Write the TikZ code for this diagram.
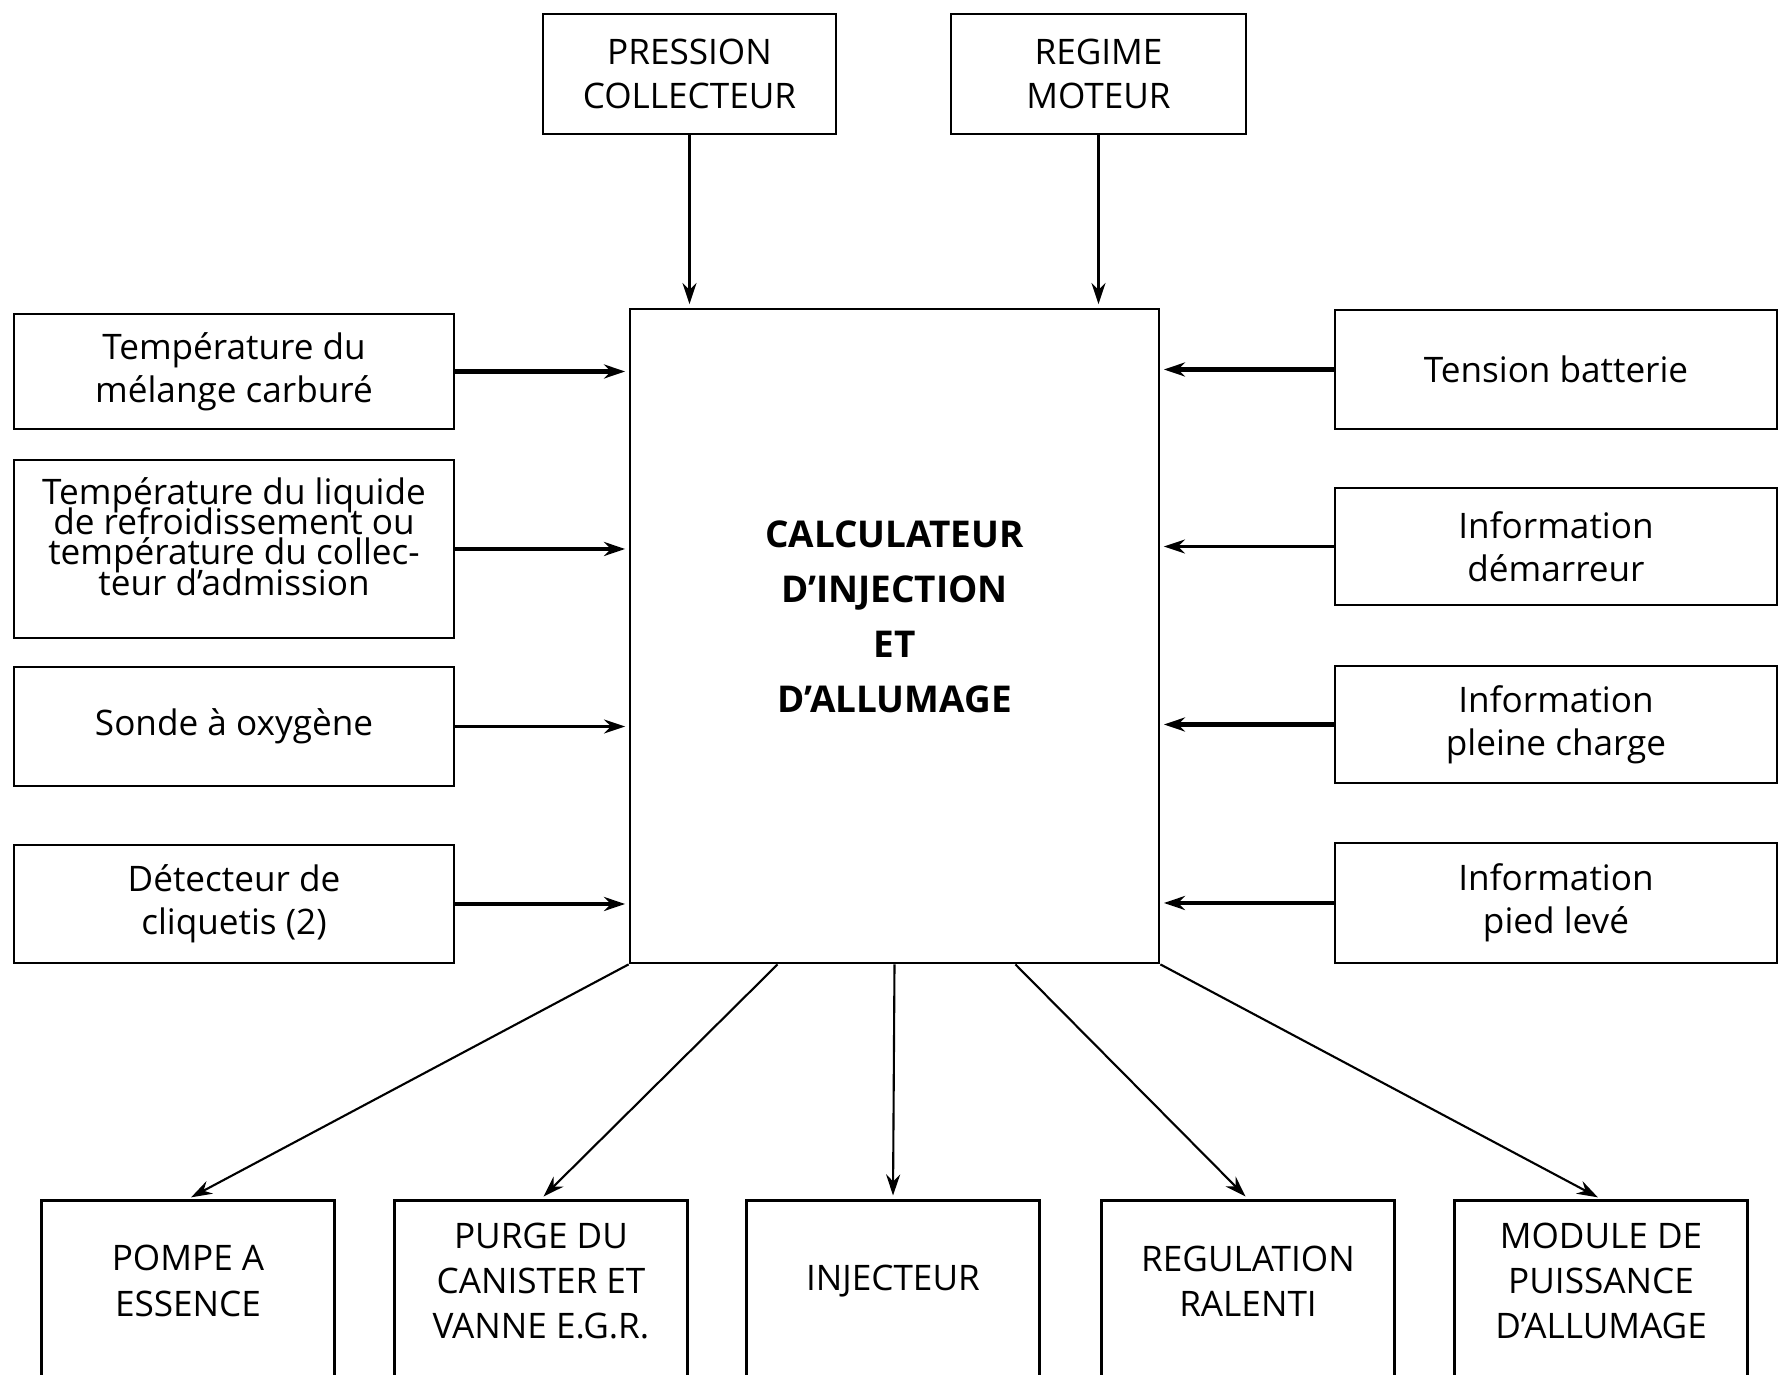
\documentclass[tikz,border=0pt]{standalone}
\usepackage{fontspec}
\setmainfont{Open Sans}
\usetikzlibrary{arrows.meta}
\tikzset{
	->, % every connector is an arrow
	>={Stealth[length=6pt,width=4pt,inset=2pt]}, % small pointed heads
	shorten >=1pt,
	box/.style={draw, line width=0.8pt, align=center, inner sep=2pt,
		font=\fontsize{10}{12.3}\selectfont},
	inbox/.style={box, minimum width=4.4cm},
	outbox/.style={box, minimum width=2.93cm, minimum height=2.2cm, anchor=north},
	boxtext/.style={anchor=center, yshift=-0.82cm, align=center,
		font=\fontsize{10}{12.9}\selectfont},
	wire/.style={line width=0.6pt},
	heavy/.style={line width=1.2pt},
}

\begin{document}
\begin{tikzpicture}
	\clip (0,0) rectangle (17.8,-13.75);

	% sensors on top
	\node[box, minimum width=2.93cm, minimum height=1.2cm] (pres) at (6.895,-0.74) {PRESSION\\COLLECTEUR};
	\node[box, minimum width=2.95cm, minimum height=1.2cm] (regime) at (10.985,-0.74) {REGIME\\MOTEUR};

	% the computer
	\node[box, minimum width=5.29cm, minimum height=6.54cm,
		label={[anchor=center, yshift=-3.09cm, align=center,
			font=\bfseries\fontsize{10.5}{15.6}\selectfont]90:CALCULATEUR\\D'INJECTION\\ET\\D'ALLUMAGE}]
		(ecu) at (8.945,-6.36) {};

	% inputs, left side
	\node[inbox, minimum height=1.15cm] (tmel) at (2.34,-3.715) {Température du\\mélange carburé};
	\node[inbox, minimum height=1.78cm,
		label={[anchor=center, yshift=-0.78cm, align=center,
			font={\fontsize{10}{8.6}\selectfont\lineskiplimit=-10pt\relax}]90:Température du liquide\\de refroidissement ou\\température du collec-\\teur d'admission}]
		(tliq) at (2.34,-5.49) {};
	\node[inbox, minimum height=1.19cm] (sonde) at (2.34,-7.265) {Sonde à oxygène};
	\node[inbox, minimum height=1.18cm] (cliq) at (2.34,-9.04) {Détecteur de\\cliquetis (2)};

	% inputs, right side
	\node[inbox, minimum width=4.42cm, minimum height=1.19cm] (tens) at (15.56,-3.695) {Tension batterie};
	\node[inbox, minimum width=4.42cm, minimum height=1.17cm] (dem) at (15.56,-5.465) {Information\\démarreur};
	\node[inbox, minimum width=4.42cm, minimum height=1.17cm] (pleine) at (15.56,-7.245) {Information\\pleine charge};
	\node[inbox, minimum width=4.42cm, minimum height=1.20cm] (pied) at (15.56,-9.03) {Information\\pied levé};

	% outputs
	\node[outbox, label={[boxtext]90:POMPE A\\ESSENCE}] (pompe) at (1.88,-11.99) {};
	\node[outbox, label={[boxtext]90:PURGE DU\\CANISTER ET\\VANNE E.G.R.}] (purge) at (5.41,-11.99) {};
	\node[outbox, label={[boxtext]90:INJECTEUR}] (inj) at (8.93,-11.99) {};
	\node[outbox, label={[boxtext]90:REGULATION\\RALENTI}] (regul) at (12.48,-11.99) {};
	\node[outbox, label={[boxtext]90:MODULE DE\\PUISSANCE\\D'ALLUMAGE}] (module) at (16.01,-11.99) {};

	\draw[wire] (pres) -- (pres |- ecu.north);
	\draw[wire] (regime) -- (regime |- ecu.north);

	\draw[heavy] (tmel) -- (tmel -| ecu.west);
	\draw[heavy] (tliq) -- (tliq -| ecu.west);
	\draw[wire] (sonde) -- (sonde -| ecu.west);
	\draw[heavy] (cliq) -- (cliq -| ecu.west);

	\draw[heavy] (tens) -- (tens -| ecu.east);
	\draw[wire] (dem) -- (dem -| ecu.east);
	\draw[heavy] (pleine) -- (pleine -| ecu.east);
	\draw[heavy] (pied) -- (pied -| ecu.east);

	\draw[wire] (ecu.south west) -- (pompe.north);
	\draw[wire] ([xshift=1.49cm]ecu.south west) -- (purge.north);
	\draw[wire] (ecu.south) -- (inj.north);
	\draw[wire] ([xshift=-1.45cm]ecu.south east) -- (regul.north);
	\draw[wire] (ecu.south east) -- (module.north);
\end{tikzpicture}
\end{document}
